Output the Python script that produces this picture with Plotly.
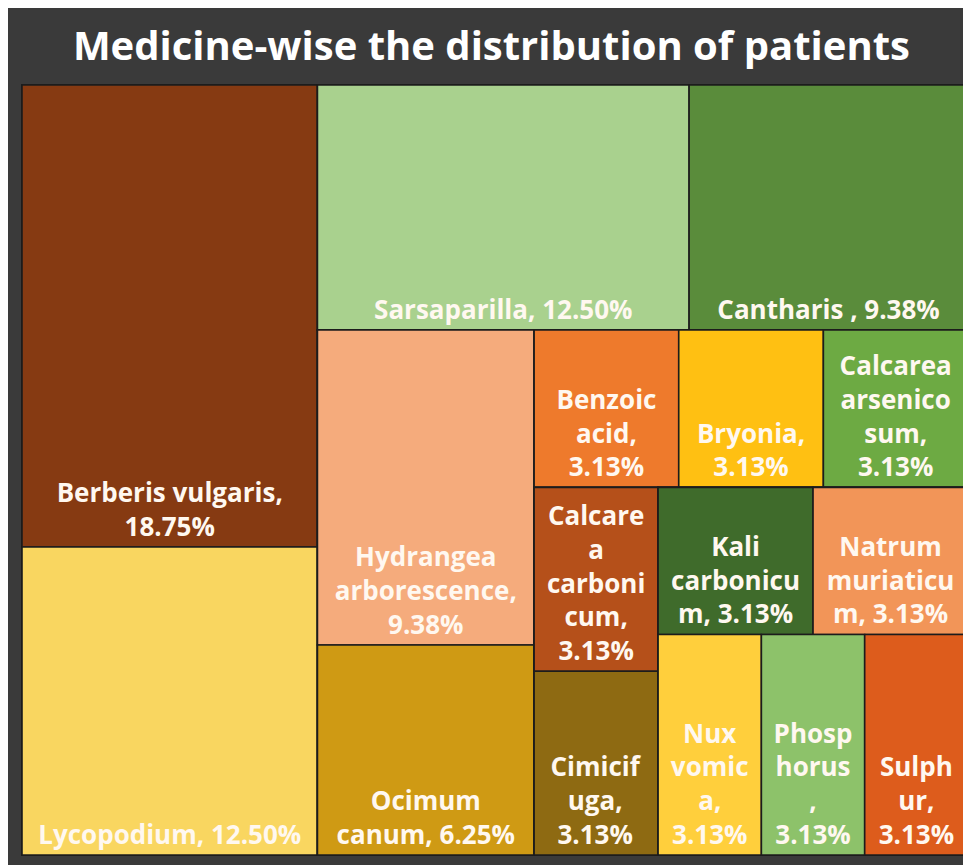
import plotly.graph_objects as go

# ---------------- data ----------------
medicines = [
    "Berberis vulgaris", "Lycopodium", "Sarsaparilla", "Cantharis ",
    "Hydrangea arborescence", "Ocimum canum", "Benzoic acid", "Bryonia",
    "Calcarea arsenicosum", "Calcarea carbonicum", "Kali carbonicum",
    "Natrum muriaticum", "Cimicifuga", "Nux vomica", "Phosphorus", "Sulphur",
]
shares = [18.75, 12.50, 12.50, 9.38, 9.38, 6.25, 3.13, 3.13,
          3.13, 3.13, 3.13, 3.13, 3.13, 3.13, 3.13, 3.13]

# label text as wrapped in the original (value inserted at {p})
label_templates = [
    "Berberis vulgaris,<br>{p}",
    "Lycopodium, {p}",
    "Sarsaparilla, {p}",
    "Cantharis , {p}",
    "Hydrangea<br>arborescence,<br>{p}",
    "Ocimum<br>canum, {p}",
    "Benzoic<br>acid,<br>{p}",
    "Bryonia,<br>{p}",
    "Calcarea<br>arsenico<br>sum,<br>{p}",
    "Calcare<br>a<br>carboni<br>cum,<br>{p}",
    "Kali<br>carbonicu<br>m, {p}",
    "Natrum<br>muriaticu<br>m, {p}",
    "Cimicif<br>uga,<br>{p}",
    "Nux<br>vomic<br>a,<br>{p}",
    "Phosp<br>horus<br>,<br>{p}",
    "Sulph<br>ur,<br>{p}",
]

tile_colors = [
    "#863a12", "#f9d660", "#a9d18e", "#5a8c3b",
    "#f5ab7c", "#cf9a14", "#ee7a2c", "#ffc012",
    "#6daa43", "#b5501a", "#3f6b2b", "#f29558",
    "#8e6a12", "#ffcf3c", "#8dc26a", "#dd5c1c",
]

# grouping that reproduces the original tile arrangement (slice/dice)
medicine_group = ["A", "A", "B1", "B1", "C1", "C1", "D1", "D1",
                  "D1", "E1", "F1", "F1", "E1", "F2", "F2", "F2"]
group_ids = ["root", "A", "B", "B1", "B2", "C1", "C2", "D1", "D2", "E1", "E2", "F1", "F2"]
group_parents = ["", "root", "root", "B", "B", "B2", "B2", "C2", "C2", "D2", "D2", "E2", "E2"]

# ---------------- figure ----------------
W, H = 963, 857
ML, MR, MT, MB = 14, 3, 77, 10
FONT = 26
BG = "#3a3a3a"

n_groups = len(group_ids)
ids = group_ids + medicines
parents = group_parents + medicine_group
values = [0] * n_groups + shares
labels = [""] * n_groups + medicines
texts = [""] * n_groups + [t.format(p=f"{v:.2f}%") for t, v in zip(label_templates, shares)]
colors = [BG] * n_groups + tile_colors

fig = go.Figure(go.Treemap(
    ids=ids,
    parents=parents,
    labels=labels,
    values=values,
    text=texts,
    textinfo="text",
    branchvalues="remainder",
    sort=False,
    marker=dict(
        colors=colors,
        line=dict(color="#1c1c1c", width=1.6),
        pad=dict(t=0, l=0, r=0, b=0),
    ),
    tiling=dict(packing="slice-dice", pad=0),
    pathbar=dict(visible=False),
    textposition="bottom center",
    textfont=dict(family="Open Sans", size=FONT, color="#fff8f0", weight="bold"),
    hoverinfo="skip",
))

fig.update_layout(
    width=W, height=H,
    margin=dict(l=ML, r=MR, t=MT, b=MB),
    paper_bgcolor=BG,
    uniformtext=dict(minsize=FONT, mode="show"),
    title=dict(
        text="Medicine-wise the distribution of patients",
        x=0.502, xanchor="center",
        y=1 - 38 / H, yanchor="middle", yref="container",
        font=dict(family="Open Sans", size=40, color="#ffffff", weight="bold"),
    ),
)

fig.write_html("out.html")
